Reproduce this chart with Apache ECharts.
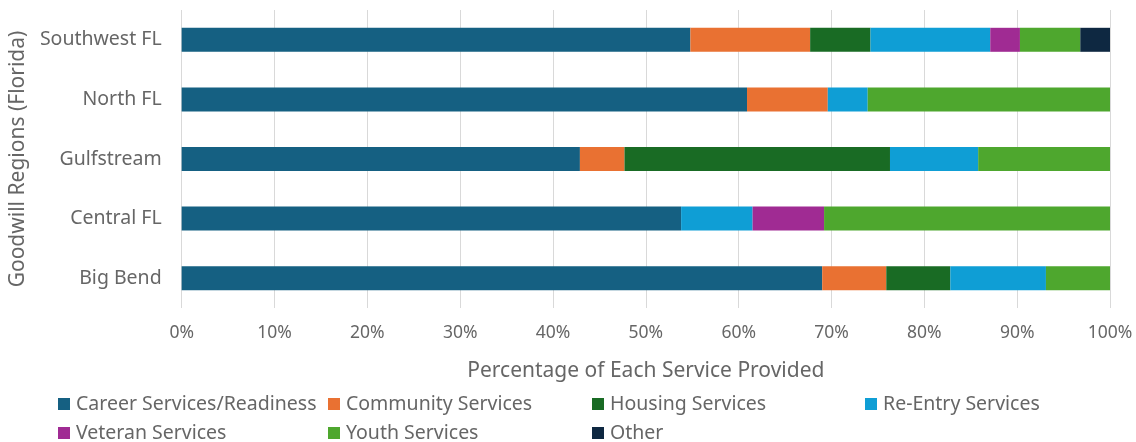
<!DOCTYPE html>
<html><head><meta charset="utf-8">
<script src="https://cdn.jsdelivr.net/npm/echarts@6/dist/echarts.min.js"></script>
<style>html,body{margin:0;padding:0;background:#fff}#c{width:1136px;height:442px}</style>
</head><body><div id="c"></div>
<script>
const categories = ['Big Bend', 'Central FL', 'Gulfstream', 'North FL', 'Southwest FL'];
const seriesNames = ['Career Services/Readiness', 'Community Services', 'Housing Services', 'Re-Entry Services', 'Veteran Services', 'Youth Services', 'Other'];
const career    = [69.0, 53.8, 42.9, 60.9, 54.8];
const community = [6.9, 0, 4.8, 8.7, 12.9];
const housing   = [6.9, 0, 28.6, 0, 6.5];
const reentry   = [10.3, 7.7, 9.5, 4.3, 12.9];
const veteran   = [0, 7.7, 0, 0, 3.2];
const youth     = [6.9, 30.8, 14.2, 26.1, 6.5];
const other     = [0, 0, 0, 0, 3.2];
const xTicks = [0, 10, 20, 30, 40, 50, 60, 70, 80, 90, 100];
const colors = ['#156082', '#E97132', '#196B24', '#0F9ED5', '#A02B93', '#4EA72E', '#0E2841'];
const values = [career, community, housing, reentry, veteran, youth, other];

const font = 'Noto Sans';
const txt = '#666666';
const legendPos = [[58, 394], [328, 394], [592, 394], [865, 394], [58, 423], [328, 423], [592, 423]];
const chart = echarts.init(document.getElementById('c'));
chart.setOption({
  animation: false,
  color: colors,
  grid: {left: 181, right: 26, top: 10, bottom: 134},
  xAxis: {
    type: 'value', min: xTicks[0], max: xTicks[xTicks.length-1], interval: 10,
    axisLabel: {formatter: v => v + '%', color: txt, fontSize: 17.5, fontFamily: font, margin: 16},
    splitLine: {lineStyle: {color: '#d9d9d9'}},
    axisLine: {show: false}, axisTick: {show: false},
    name: 'Percentage of Each Service Provided', nameLocation: 'middle', nameGap: 53,
    nameTextStyle: {color: txt, fontSize: 21, fontFamily: font}
  },
  yAxis: {
    type: 'category', data: categories,
    axisLabel: {color: txt, fontSize: 19.5, fontFamily: font, margin: 20},
    axisLine: {show: false}, axisTick: {show: false},
    name: 'Goodwill Regions (Florida)', nameLocation: 'middle', nameGap: 147, nameRotate: 90,
    nameTextStyle: {color: txt, fontSize: 21, fontFamily: font}
  },
  legend: seriesNames.map((n, i) => ({
    data: [n], left: legendPos[i][0], top: legendPos[i][1], itemWidth: 12, itemHeight: 12, itemGap: 0, icon: 'rect',
    padding: 0,
    textStyle: {color: txt, fontSize: 19.5, fontFamily: font, padding: [0, 0, 0, 1]}
  })),
  series: seriesNames.map((n, i) => ({
    name: n, type: 'bar', stack: 'total', barWidth: 24, data: values[i],
    itemStyle: {color: colors[i]}
  }))
});
</script></body></html>
